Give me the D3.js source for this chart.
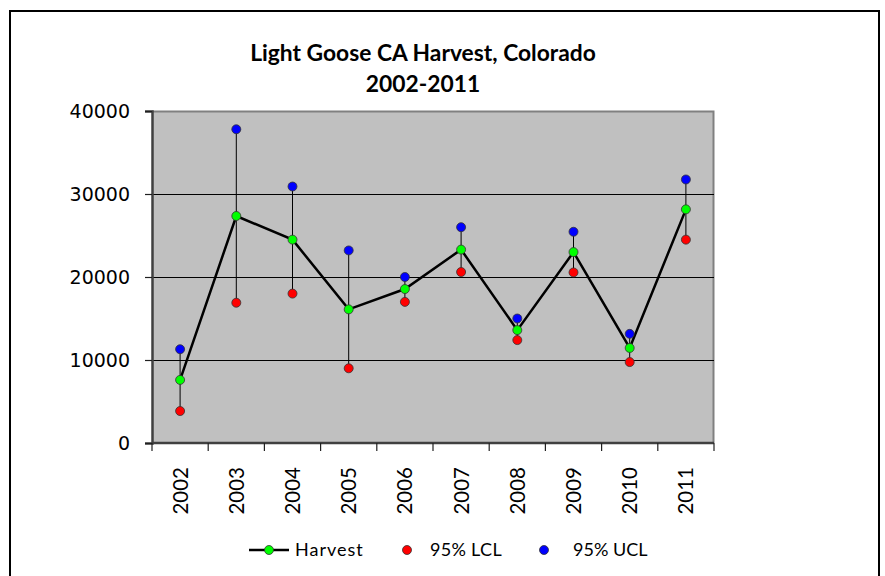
<!DOCTYPE html>
<html>
<head>
<meta charset="utf-8">
<script src="https://cdn.jsdelivr.net/npm/d3@7"></script>
<style>
  body { margin: 0; background: #fff; }
</style>
</head>
<body>
<div id="chart"></div>
<script>
// data
var years = ["2002","2003","2004","2005","2006","2007","2008","2009","2010","2011"];
var harvest = [7600, 27350, 24500, 16100, 18550, 23300, 13600, 23000, 11450, 28150];
var lcl = [3850, 16900, 18000, 9000, 17000, 20600, 12400, 20550, 9750, 24500];
var ucl = [11300, 37800, 30900, 23200, 20000, 26000, 15000, 25450, 13150, 31750];
var yTicks = [0, 10000, 20000, 30000, 40000];

var W = 885, H = 576;
var margin = {top: 111, right: 171, bottom: 133, left: 152},
    width = W - margin.left - margin.right,
    height = H - margin.top - margin.bottom;

var svg = d3.select("#chart")
  .append("svg")
    .attr("width", W)
    .attr("height", H);

// outer frame
svg.append("rect")
  .attr("x", 10).attr("y", 11)
  .attr("width", 869).attr("height", 600)
  .attr("fill", "none")
  .attr("stroke", "#000")
  .attr("stroke-width", 2);

// title
var title = svg.append("text")
  .attr("text-anchor", "middle")
  .style("font-family", "Lato, 'Open Sans', sans-serif")
  .style("font-weight", "bold")
  .style("font-size", "22.8px")
  .attr("fill", "#000");
title.append("tspan").attr("x", 423).attr("y", 61).text("Light Goose CA Harvest, Colorado");
title.append("tspan").attr("x", 423).attr("y", 92).text("2002-2011");

var g = svg.append("g")
  .attr("transform", "translate(" + margin.left + "," + margin.top + ")");

var x = d3.scaleBand()
  .domain(years)
  .range([0, width]);

var y = d3.scaleLinear()
  .domain([0, 40000])
  .range([height, 0]);

// plot area
g.append("rect")
  .attr("width", width).attr("height", height)
  .attr("fill", "#c0c0c0");
g.append("path")
  .attr("d", "M0,0.5H" + (width - 0.5) + "V" + height)
  .attr("fill", "none")
  .attr("stroke", "#808080")
  .attr("stroke-width", 2);

// gridlines
g.selectAll(".grid")
  .data(yTicks.filter(d => d > 0 && d < 40000))
  .enter().append("line")
  .attr("x1", 0).attr("x2", width)
  .attr("y1", d => Math.round(y(d)) + 0.5)
  .attr("y2", d => Math.round(y(d)) + 0.5)
  .attr("stroke", "#000")
  .attr("stroke-width", 1.2);

// y axis
var yAxis = g.append("g")
  .call(d3.axisLeft(y).tickValues(yTicks).tickSize(7).tickPadding(15).tickFormat(d3.format("d")));
yAxis.select(".domain").attr("stroke", "#404040").attr("stroke-width", 2.5);
yAxis.selectAll(".tick line").attr("stroke", "#202020").attr("stroke-width", 1.2);
yAxis.selectAll("text")
  .style("font-family", "'DejaVu Sans', sans-serif")
  .style("font-size", "19px")
  .attr("fill", "#000");

// x axis (ticks between categories)
var xAxis = g.append("g")
  .attr("transform", "translate(0," + height + ")");
xAxis.append("line")
  .attr("x1", 0).attr("x2", width)
  .attr("stroke", "#404040").attr("stroke-width", 2.5);
xAxis.selectAll(".xt")
  .data(years.concat(["end"]))
  .enter().append("line")
  .attr("x1", (d, i) => i * x.bandwidth())
  .attr("x2", (d, i) => i * x.bandwidth())
  .attr("y1", 0).attr("y2", 8)
  .attr("stroke", "#202020").attr("stroke-width", 1.2);
xAxis.selectAll(".xl")
  .data(years)
  .enter().append("text")
  .attr("transform", d => "translate(" + (x(d) + x.bandwidth() / 2 + 7.5) + ",24) rotate(-90)")
  .attr("text-anchor", "end")
  .style("font-family", "Lato, 'Open Sans', sans-serif")
  .style("font-size", "20.5px")
  .attr("fill", "#000")
  .text(d => d);

var cx = d => x(d) + x.bandwidth() / 2;

// high-low lines
g.selectAll(".hl")
  .data(years)
  .enter().append("line")
  .attr("x1", cx).attr("x2", cx)
  .attr("y1", (d, i) => y(ucl[i]))
  .attr("y2", (d, i) => y(lcl[i]))
  .attr("stroke", "#000")
  .attr("stroke-width", 1);

// harvest line
var line = d3.line()
  .x((d, i) => cx(years[i]))
  .y(d => y(d));
g.append("path")
  .datum(harvest)
  .attr("d", line)
  .attr("fill", "none")
  .attr("stroke", "#000")
  .attr("stroke-width", 2.5);

function dots(vals, color) {
  g.append("g").selectAll("circle")
    .data(vals)
    .enter().append("circle")
    .attr("cx", (d, i) => cx(years[i]))
    .attr("cy", d => y(d))
    .attr("r", 4.5)
    .attr("fill", color)
    .attr("stroke", "#333")
    .attr("stroke-width", 0.8);
}
dots(ucl, "#0000ff");
dots(lcl, "#ff0000");
dots(harvest, "#00ff00");

// legend
var leg = svg.append("g").attr("transform", "translate(0,550)");
leg.append("line")
  .attr("x1", 249).attr("x2", 289)
  .attr("stroke", "#000").attr("stroke-width", 2.5);
leg.append("circle").attr("cx", 269).attr("cy", 0).attr("r", 4.5)
  .attr("fill", "#00ff00").attr("stroke", "#333").attr("stroke-width", 0.8);
leg.append("circle").attr("cx", 407).attr("cy", 0).attr("r", 4.5)
  .attr("fill", "#ff0000").attr("stroke", "#333").attr("stroke-width", 0.8);
leg.append("circle").attr("cx", 544).attr("cy", 0).attr("r", 4.5)
  .attr("fill", "#0000ff").attr("stroke", "#333").attr("stroke-width", 0.8);
var legLabels = [["Harvest", 295, 1], ["95% LCL", 430, 0.3], ["95% UCL", 573, 0]];
leg.selectAll(".lt")
  .data(legLabels)
  .enter().append("text")
  .attr("x", d => d[1])
  .attr("y", 6)
  .style("font-family", "Lato, 'Open Sans', sans-serif")
  .style("font-size", "18px")
  .style("letter-spacing", d => d[2] + "px")
  .attr("fill", "#000")
  .text(d => d[0]);
</script>
</body>
</html>
